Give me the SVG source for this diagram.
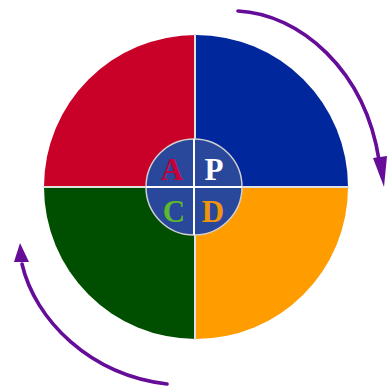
<svg xmlns="http://www.w3.org/2000/svg" width="387" height="387" viewBox="0 0 387 387">
<style>
.arc{fill:none;stroke:#650c99;stroke-width:3.6;stroke-linecap:round}
.head{fill:#650c99}
.div{stroke:#e0e0e0;stroke-width:2}
.lt{font-family:"Liberation Serif","Times New Roman",serif;font-weight:bold;font-size:31px;text-anchor:middle}
</style>
<rect width="387" height="387" fill="#fff"/>
<g id="wheel">
<path id="q-act" d="M196,187 L44,187 A152,152 0 0 1 196,35 Z" fill="#c90028"/>
<path id="q-plan" d="M196,187 L196,35 A152,152 0 0 1 348,187 Z" fill="#00279b"/>
<path id="q-do" d="M196,187 L348,187 A152,152 0 0 1 196,339 Z" fill="#ff9c00"/>
<path id="q-check" d="M196,187 L196,339 A152,152 0 0 1 44,187 Z" fill="#004f00"/>
<line class="div" x1="195" y1="34" x2="195" y2="340"/>
<line class="div" x1="43" y1="187" x2="349" y2="187"/>
</g>
<g id="hub">
<circle cx="194" cy="187" r="48" fill="#29479b" stroke="#d0d0d0" stroke-width="1.5"/>
<line x1="194" y1="139" x2="194" y2="235" stroke="#fff" stroke-width="2"/>
<line x1="146" y1="187" x2="242" y2="187" stroke="#fff" stroke-width="2"/>
<text class="lt" x="172" y="180" fill="#c8003a">A</text>
<text class="lt" x="214" y="180" fill="#ffffff">P</text>
<text class="lt" x="174" y="222" fill="#5cb82c">C</text>
<text class="lt" x="213" y="222" fill="#f0940a">D</text>
</g>
<g id="connectors">
<path class="arc" d="M238,11 C300,14 365,70 379,160"/>
<polygon class="head" points="373,158 387,156 384,187"/>
<path class="arc" d="M167,384 C90,375 35,320 22,264"/>
<polygon class="head" points="14,262 29,262 20,243"/>
</g>
</svg>
